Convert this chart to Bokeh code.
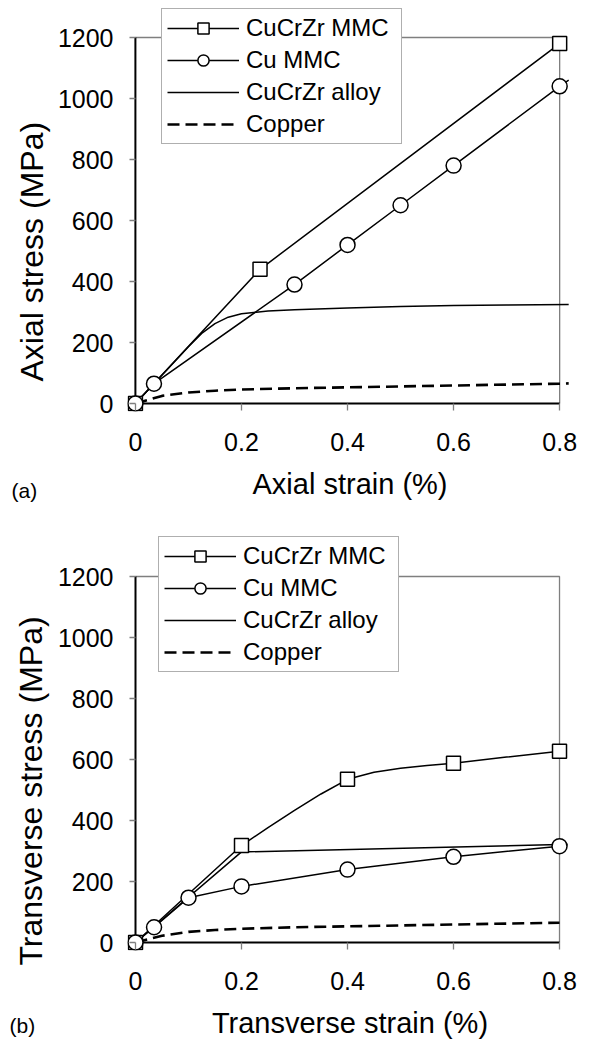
from bokeh.plotting import figure
from bokeh.models import Range1d, FixedTicker, Legend, LegendItem, Title
from bokeh.layouts import column
from bokeh.embed import file_html
from bokeh.resources import INLINE

# ---------------- data ----------------
x_ticks = [0, 0.2, 0.4, 0.6, 0.8]
x_tick_labels = ["0", "0.2", "0.4", "0.6", "0.8"]
y_ticks = [0, 200, 400, 600, 800, 1000, 1200]
y_tick_labels = ["0", "200", "400", "600", "800", "1000", "1200"]
series_names = ["CuCrZr MMC", "Cu MMC", "CuCrZr alloy", "Copper"]

# (a) axial
ax_cucrzr_mmc_strain = [0, 0.235, 0.8]
ax_cucrzr_mmc_stress = [0, 440, 1180]
ax_cu_mmc_strain = [0, 0.035, 0.3, 0.4, 0.5, 0.6, 0.8, 0.817]
ax_cu_mmc_stress = [0, 65, 390, 520, 650, 780, 1040, 1060]
ax_cu_mmc_marked = 7  # markers on the first 7 points
ax_alloy_strain = [0, 0.05, 0.1, 0.125, 0.15, 0.175, 0.2, 0.25, 0.3, 0.4, 0.5, 0.6, 0.7, 0.817]
ax_alloy_stress = [0, 93, 186, 230, 262, 283, 294, 303, 307, 313, 318, 321, 323, 325]
ax_copper_strain = [0, 0.05, 0.1, 0.15, 0.2, 0.3, 0.4, 0.5, 0.6, 0.7, 0.8, 0.817]
ax_copper_stress = [0, 25, 36, 42, 46, 50, 53, 56, 59, 62, 65, 66]

# (b) transverse
tr_cucrzr_mmc_strain = [0, 0.1, 0.2, 0.25, 0.3, 0.35, 0.4, 0.45, 0.5, 0.55, 0.6, 0.7, 0.8]
tr_cucrzr_mmc_stress = [0, 159, 318, 377, 433, 487, 535, 558, 571, 580, 588, 608, 627]
tr_cucrzr_mmc_mark_strain = [0, 0.2, 0.4, 0.6, 0.8]
tr_cucrzr_mmc_mark_stress = [0, 318, 535, 588, 627]
tr_cu_mmc_strain = [0, 0.035, 0.1, 0.2, 0.4, 0.6, 0.8, 0.815]
tr_cu_mmc_stress = [0, 50, 147, 184, 239, 281, 316, 320]
tr_cu_mmc_marked = 7
tr_alloy_strain = [0, 0.2, 0.8, 0.815]
tr_alloy_stress = [0, 297, 321, 322]
tr_copper_strain = [0, 0.05, 0.1, 0.15, 0.2, 0.3, 0.4, 0.5, 0.6, 0.7, 0.8]
tr_copper_stress = [0, 22, 35, 41, 45, 50, 53, 56, 59, 62, 65]

FONT = "Liberation Sans"
GRAY = "#7f7f7f"


def make_panel(h, frame_left, frame_right_pad, top_border, bottom_border, xr, yr,
               cucrzr_line, cucrzr_marks, cu_line, cu_nmark, alloy, copper,
               legend_loc, ylabel, xlabel, tag, ytitle_offset, ytitle_standoff,
               tag_standoff):
    p = figure(width=590, height=h, output_backend="svg", toolbar_location=None,
               x_range=Range1d(*xr), y_range=Range1d(*yr),
               min_border_left=frame_left, min_border_right=frame_right_pad,
               min_border_top=top_border, min_border_bottom=bottom_border)
    p.outline_line_color = None
    p.grid.visible = False
    p.background_fill_color = "white"
    p.border_fill_color = "white"

    # frame: gray top and right edges, black axis lines at zero
    p.line([x_ticks[0], x_ticks[-1], x_ticks[-1]], [y_ticks[-1], y_ticks[-1], y_ticks[0]],
           line_color=GRAY, line_width=1.3)
    p.line([x_ticks[0], x_ticks[0]], [y_ticks[0], y_ticks[-1]], line_color="black", line_width=2)
    p.line([x_ticks[0], x_ticks[-1]], [y_ticks[0], y_ticks[0]], line_color="black", line_width=2)

    for ax in (p.xaxis[0], p.yaxis[0]):
        ax.axis_line_color = None
        ax.major_tick_line_color = GRAY
        ax.major_tick_line_width = 1.3
        ax.minor_tick_line_color = None
        ax.major_label_text_font = FONT
        ax.major_label_text_font_size = "25px"
        ax.major_label_text_color = "black"
    p.xaxis.ticker = FixedTicker(ticks=x_ticks)
    p.yaxis.ticker = FixedTicker(ticks=y_ticks)
    p.xaxis.major_label_overrides = {t: s for t, s in zip(x_ticks, x_tick_labels)}
    p.yaxis.major_label_overrides = {t: s for t, s in zip(y_ticks, y_tick_labels)}
    p.xaxis.major_tick_in = 8
    p.xaxis.major_tick_out = -1
    p.yaxis.major_tick_in = 8
    p.yaxis.major_tick_out = -2
    p.xaxis.major_label_standoff = 21
    p.yaxis.major_label_standoff = 14

    p.xaxis.axis_label = xlabel
    p.xaxis.axis_label_text_font = FONT
    p.xaxis.axis_label_text_font_size = "29px"
    p.xaxis.axis_label_text_font_style = "normal"
    p.xaxis.axis_label_text_color = "black"
    p.xaxis.axis_label_standoff = 14

    r_copper = p.line(copper[0], copper[1], line_color="black", line_width=2.6,
                      line_dash="12 6")
    r_alloy = p.line(alloy[0], alloy[1], line_color="black", line_width=1.5)
    r_cucrzr_line = p.line(cucrzr_line[0], cucrzr_line[1], line_color="black", line_width=1.5)
    r_cu_line = p.line(cu_line[0], cu_line[1], line_color="black", line_width=1.5)
    r_sq = p.scatter(cucrzr_marks[0], cucrzr_marks[1], marker="square", size=14,
                     fill_color="white", line_color="black", line_width=1.5)
    r_ci = p.scatter(cu_line[0][:cu_nmark], cu_line[1][:cu_nmark], marker="circle", size=15,
                     fill_color="white", line_color="black", line_width=1.5)

    legend = Legend(items=[
        LegendItem(label=series_names[0], renderers=[r_cucrzr_line, r_sq]),
        LegendItem(label=series_names[1], renderers=[r_cu_line, r_ci]),
        LegendItem(label=series_names[2], renderers=[r_alloy]),
        LegendItem(label=series_names[3], renderers=[r_copper]),
    ], location=legend_loc)
    legend.margin = 0
    legend.padding = 5
    legend.spacing = 4
    legend.glyph_width = 72
    legend.glyph_height = 28
    legend.label_height = 28
    legend.label_width = 150
    legend.label_standoff = 7
    legend.label_text_font = FONT
    legend.label_text_font_size = "24px"
    legend.label_text_color = "black"
    legend.border_line_color = "#606060"
    legend.border_line_width = 1.3
    legend.background_fill_color = "white"
    legend.background_fill_alpha = 1.0
    p.add_layout(legend, "center")

    yt = Title(text=ylabel, align="left", offset=ytitle_offset, vertical_align="top",
               text_font=FONT, text_font_size="32px", text_font_style="normal",
               text_color="black")
    yt.standoff = ytitle_standoff
    p.add_layout(yt, "left")

    tt = Title(text=tag, align="left", offset=-(frame_left - 9), vertical_align="top",
               text_font=FONT, text_font_size="21px", text_font_style="normal",
               text_color="black")
    tt.standoff = tag_standoff
    p.add_layout(tt, "below")
    return p


p1 = make_panel(504, 125, 15, 8, 93, (-0.0149, 0.8242), (-26.2, 1295.1),
                (ax_cucrzr_mmc_strain, ax_cucrzr_mmc_stress),
                (ax_cucrzr_mmc_strain, ax_cucrzr_mmc_stress),
                (ax_cu_mmc_strain, ax_cu_mmc_stress), ax_cu_mmc_marked,
                (ax_alloy_strain, ax_alloy_stress), (ax_copper_strain, ax_copper_stress),
                (34, 267), "Axial stress (MPa)", "Axial strain (%)", "(a)", 30, 6, -48)

p2 = make_panel(538, 127, 18, 0, 92, (-0.0151, 0.8245), (-26.2, 1436.1),
                (tr_cucrzr_mmc_strain, tr_cucrzr_mmc_stress),
                (tr_cucrzr_mmc_mark_strain, tr_cucrzr_mmc_mark_stress),
                (tr_cu_mmc_strain, tr_cu_mmc_stress), tr_cu_mmc_marked,
                (tr_alloy_strain, tr_alloy_stress), (tr_copper_strain, tr_copper_stress),
                (31, 278), "Transverse stress (MPa)", "Transverse strain (%)", "(b)", -15, 8, -56)

layout = column(p1, p2, spacing=0)
open("out.html", "w").write(file_html(layout, INLINE))
